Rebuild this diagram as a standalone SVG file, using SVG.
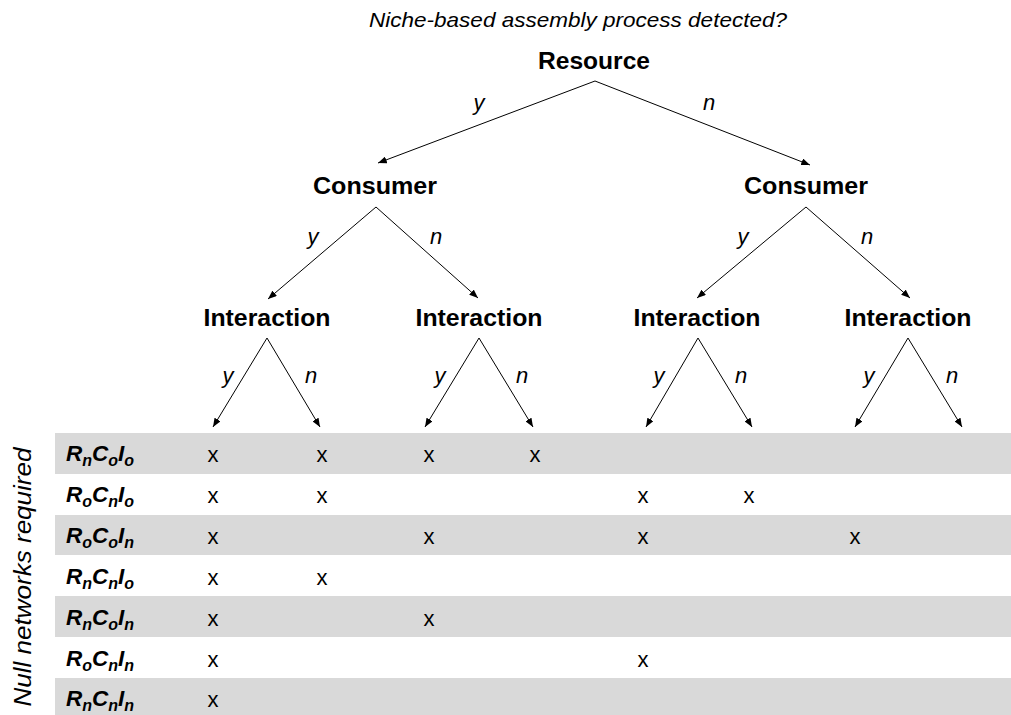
<svg xmlns="http://www.w3.org/2000/svg" width="1011" height="715" viewBox="0 0 1011 715">
<defs>
<style>
text{font-family:"Liberation Sans",Arial,sans-serif;fill:#000}
.title{font-size:21px;font-style:italic}
.node{font-size:23.5px;font-weight:bold;text-anchor:middle}
.lbl{font-size:22px;font-style:italic;text-anchor:middle}
.x{font-size:22px;text-anchor:middle}
.row{font-size:22.5px;font-weight:bold;font-style:italic}
.sub{font-size:16px}
.band{fill:#d9d9d9}
.edge{stroke:#000;stroke-width:1;fill:none;marker-end:url(#ah)}
</style>
<marker id="ah" viewBox="0 0 10 8" refX="10" refY="4" markerWidth="9" markerHeight="7" markerUnits="userSpaceOnUse" orient="auto">
<path d="M0,0 L10,4 L0,8 z" fill="#000"/>
</marker>
</defs>
<rect width="1011" height="715" fill="#fff"/>
<g id="table">
<rect class="band" x="55" y="433" width="956" height="41"/>
<rect class="band" x="55" y="515" width="956" height="40"/>
<rect class="band" x="55" y="596" width="956" height="41"/>
<rect class="band" x="55" y="678" width="956" height="37"/>
</g>
<text class="title" x="578" y="27" text-anchor="middle" textLength="418" lengthAdjust="spacingAndGlyphs">Niche-based assembly process detected?</text>
<g id="connectors">
<line class="edge" x1="595" y1="81" x2="378" y2="163"/>
<line class="edge" x1="595" y1="81" x2="810" y2="165"/>
<line class="edge" x1="376" y1="207" x2="268" y2="299"/>
<line class="edge" x1="376" y1="207" x2="478" y2="298"/>
<line class="edge" x1="806" y1="207" x2="697" y2="298"/>
<line class="edge" x1="806" y1="207" x2="910" y2="298"/>
<line class="edge" x1="267" y1="338" x2="213" y2="427"/>
<line class="edge" x1="267" y1="338" x2="320" y2="427"/>
<line class="edge" x1="479" y1="338" x2="425" y2="427"/>
<line class="edge" x1="479" y1="338" x2="533" y2="427"/>
<line class="edge" x1="698" y1="338" x2="646" y2="427"/>
<line class="edge" x1="698" y1="338" x2="752" y2="427"/>
<line class="edge" x1="908" y1="338" x2="855" y2="427"/>
<line class="edge" x1="908" y1="338" x2="962" y2="427"/>
<text class="lbl" x="479" y="110">y</text>
<text class="lbl" x="709" y="110">n</text>
<text class="lbl" x="313" y="244">y</text>
<text class="lbl" x="436" y="244">n</text>
<text class="lbl" x="743" y="244">y</text>
<text class="lbl" x="867" y="244">n</text>
<text class="lbl" x="228" y="383">y</text>
<text class="lbl" x="311" y="383">n</text>
<text class="lbl" x="440" y="383">y</text>
<text class="lbl" x="522" y="383">n</text>
<text class="lbl" x="659" y="383">y</text>
<text class="lbl" x="741" y="383">n</text>
<text class="lbl" x="869" y="383">y</text>
<text class="lbl" x="952" y="383">n</text>
</g>
<g id="resource"><text class="node" x="594" y="69" textLength="112" lengthAdjust="spacingAndGlyphs">Resource</text></g>
<g id="consumer-y"><text class="node" x="375" y="194" textLength="124" lengthAdjust="spacingAndGlyphs">Consumer</text></g>
<g id="consumer-n"><text class="node" x="806" y="194" textLength="124" lengthAdjust="spacingAndGlyphs">Consumer</text></g>
<g id="interaction-yy"><text class="node" x="267" y="326" textLength="127" lengthAdjust="spacingAndGlyphs">Interaction</text></g>
<g id="interaction-yn"><text class="node" x="479" y="326" textLength="127" lengthAdjust="spacingAndGlyphs">Interaction</text></g>
<g id="interaction-ny"><text class="node" x="697" y="326" textLength="127" lengthAdjust="spacingAndGlyphs">Interaction</text></g>
<g id="interaction-nn"><text class="node" x="908" y="326" textLength="127" lengthAdjust="spacingAndGlyphs">Interaction</text></g>
<g id="rows">
<text class="row" x="66" y="461">R<tspan class="sub" dy="5">n</tspan><tspan dy="-5">C</tspan><tspan class="sub" dy="5">o</tspan><tspan dy="-5">I</tspan><tspan class="sub" dy="5">o</tspan></text>
<text class="row" x="66" y="502">R<tspan class="sub" dy="5">o</tspan><tspan dy="-5">C</tspan><tspan class="sub" dy="5">n</tspan><tspan dy="-5">I</tspan><tspan class="sub" dy="5">o</tspan></text>
<text class="row" x="66" y="543">R<tspan class="sub" dy="5">o</tspan><tspan dy="-5">C</tspan><tspan class="sub" dy="5">o</tspan><tspan dy="-5">I</tspan><tspan class="sub" dy="5">n</tspan></text>
<text class="row" x="66" y="584">R<tspan class="sub" dy="5">n</tspan><tspan dy="-5">C</tspan><tspan class="sub" dy="5">n</tspan><tspan dy="-5">I</tspan><tspan class="sub" dy="5">o</tspan></text>
<text class="row" x="66" y="625">R<tspan class="sub" dy="5">n</tspan><tspan dy="-5">C</tspan><tspan class="sub" dy="5">o</tspan><tspan dy="-5">I</tspan><tspan class="sub" dy="5">n</tspan></text>
<text class="row" x="66" y="666">R<tspan class="sub" dy="5">o</tspan><tspan dy="-5">C</tspan><tspan class="sub" dy="5">n</tspan><tspan dy="-5">I</tspan><tspan class="sub" dy="5">n</tspan></text>
<text class="row" x="66" y="706">R<tspan class="sub" dy="5">n</tspan><tspan dy="-5">C</tspan><tspan class="sub" dy="5">n</tspan><tspan dy="-5">I</tspan><tspan class="sub" dy="5">n</tspan></text>
</g>
<text class="title" style="font-size:24px" transform="translate(31,577) rotate(-90)" text-anchor="middle" textLength="259" lengthAdjust="spacingAndGlyphs">Null networks required</text>
<g id="marks">
<text class="x" x="213" y="462">x</text><text class="x" x="322" y="462">x</text><text class="x" x="429" y="462">x</text><text class="x" x="535" y="462">x</text>
<text class="x" x="213" y="503">x</text><text class="x" x="322" y="503">x</text><text class="x" x="643" y="503">x</text><text class="x" x="749" y="503">x</text>
<text class="x" x="213" y="544">x</text><text class="x" x="429" y="544">x</text><text class="x" x="643" y="544">x</text><text class="x" x="855" y="544">x</text>
<text class="x" x="213" y="585">x</text><text class="x" x="322" y="585">x</text>
<text class="x" x="213" y="626">x</text><text class="x" x="429" y="626">x</text>
<text class="x" x="213" y="667">x</text><text class="x" x="643" y="667">x</text>
<text class="x" x="213" y="707">x</text>
</g>
</svg>
